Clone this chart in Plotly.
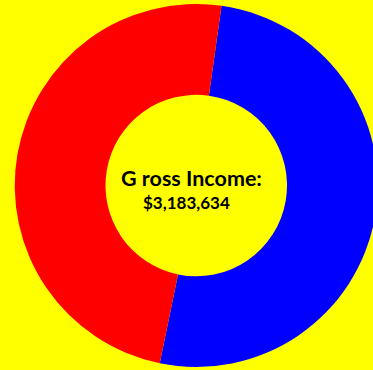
import plotly.graph_objects as go

# Gross income split into its two components
labels = ["Net Income", "Expenses"]
values = [1623650, 1559984]
colors = ["#0000FF", "#FF0000"]

gross_title = "G ross Income:"
gross_total = "$3,183,634"

W, H = 378, 370

fig = go.Figure(
    go.Pie(
        labels=labels,
        values=values,
        hole=0.5,
        sort=False,
        direction="clockwise",
        rotation=8,
        marker=dict(colors=colors, line=dict(width=0)),
        textinfo="none",
        hoverinfo="label+value+percent",
        showlegend=False,
        domain=dict(x=[14.5 / W, 1.0], y=[3 / H, 366 / H]),
    )
)

fig.add_annotation(
    text=f"<b>{gross_title}</b>",
    x=191.5 / W, y=1 - 178 / H, xref="paper", yref="paper",
    showarrow=False, xanchor="center", yanchor="middle",
    font=dict(family="Lato, Liberation Sans, Arial", size=21.5, color="#000000"),
)
fig.add_annotation(
    text=f"<b>{gross_total}</b>",
    x=186 / W, y=1 - 203 / H, xref="paper", yref="paper",
    showarrow=False, xanchor="center", yanchor="middle",
    font=dict(family="Lato, Liberation Sans, Arial", size=17, color="#000000"),
)

fig.update_layout(
    width=W,
    height=H,
    autosize=False,
    margin=dict(l=0, r=0, t=0, b=0),
    paper_bgcolor="#FFFF00",
    plot_bgcolor="#FFFF00",
)

fig.write_html(
    "out.html",
    post_script="document.body.style.overflow='hidden';document.body.style.margin='0';",
)
